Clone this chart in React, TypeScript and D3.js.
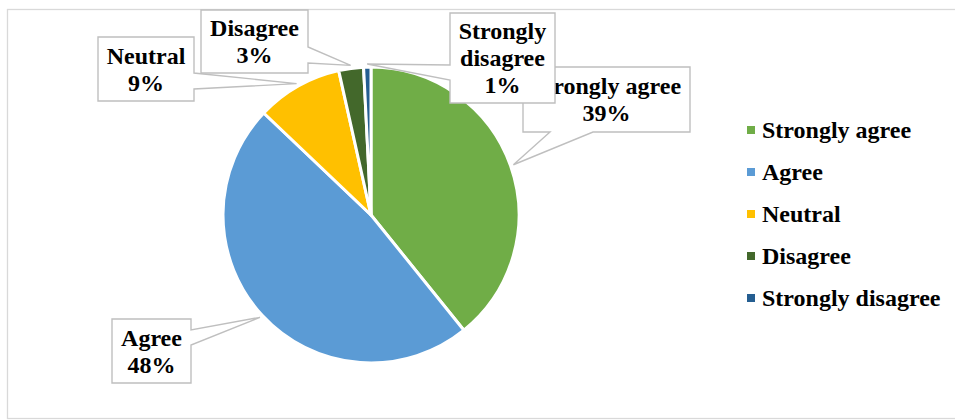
import React from 'react';
import * as d3 from 'd3';

// survey answers
const categories = ['Strongly agree', 'Agree', 'Neutral', 'Disagree', 'Strongly disagree'];
const shares = [39.2, 47.9, 9.4, 2.7, 0.8];
const pctLabels = ['39%', '48%', '9%', '3%', '1%'];
const labelLines = [['Strongly agree'], ['Agree'], ['Neutral'], ['Disagree'], ['Strongly', 'disagree']];
const colors = ['#70AD47', '#5B9BD5', '#FFC000', '#43682B', '#255E91'];

// callout boxes: rect + which side the pointer leaves from and its base span
type Callout = { x: number; y: number; w: number; h: number; side: 'left' | 'right' | 'bottom'; b0: number; b1: number };
const callouts: Callout[] = [
  { x: 523, y: 67, w: 167, h: 65, side: 'bottom', b0: 550, b1: 593 },
  { x: 112, y: 319, w: 79, h: 64, side: 'right', b0: 330, b1: 345 },
  { x: 98, y: 37, w: 96, h: 64, side: 'right', b0: 73, b1: 89 },
  { x: 201, y: 10, w: 107, h: 63, side: 'right', b0: 47, b1: 63 },
  { x: 450, y: 13, w: 105, h: 90, side: 'left', b0: 65, b1: 80 },
];

const W = 955;
const H = 420;
const cx = 371;
const cy = 215;
const R = 148;
const FONT = "'Liberation Serif', 'Times New Roman', serif";

function calloutPath(c: Callout, tip: [number, number]) {
  const { x, y, w, h } = c;
  const p = d3.path();
  p.moveTo(x, y);
  p.lineTo(x + w, y);
  if (c.side === 'right') {
    p.lineTo(x + w, c.b0);
    p.lineTo(tip[0], tip[1]);
    p.lineTo(x + w, c.b1);
  }
  p.lineTo(x + w, y + h);
  if (c.side === 'bottom') {
    p.lineTo(c.b1, y + h);
    p.lineTo(tip[0], tip[1]);
    p.lineTo(c.b0, y + h);
  }
  p.lineTo(x, y + h);
  if (c.side === 'left') {
    p.lineTo(x, c.b1);
    p.lineTo(tip[0], tip[1]);
    p.lineTo(x, c.b0);
  }
  p.closePath();
  return p.toString();
}

export default function App() {
  const pie = d3.pie<number>().sort(null).value((d) => d);
  const arcs = pie(shares);
  const arc = d3.arc<d3.PieArcDatum<number>>().innerRadius(0).outerRadius(R);
  const tipArc = d3.arc<d3.PieArcDatum<number>>().innerRadius(151).outerRadius(151);

  const legendY = d3.scalePoint<string>().domain(categories).range([130, 298]);

  // draw order of callouts: strongly agree box sits under the strongly disagree one
  const order = [0, 1, 2, 3, 4];

  return (
    <svg width={W} height={H} style={{ position: 'absolute', left: 0, top: 0, background: '#fff' }}>
      <rect x={7.5} y={9.5} width={970} height={409} fill="#fff" stroke="#d9d9d9" strokeWidth={1.3} />

      <g transform={`translate(${cx},${cy})`}>
        {arcs.map((a, i) => (
          <path key={categories[i]} d={arc(a) || ''} fill={colors[i]} stroke="#fff" strokeWidth={3} strokeLinejoin="round" />
        ))}
      </g>

      {order.map((i) => {
        const c = callouts[i];
        const t = tipArc.centroid(arcs[i]);
        const tip: [number, number] = [t[0] + cx, t[1] + cy];
        const lines = [...labelLines[i], pctLabels[i]];
        const midX = c.x + c.w / 2;
        const midY = c.y + c.h / 2;
        const step = 27;
        return (
          <g key={`lbl-${i}`}>
            <path d={calloutPath(c, tip)} fill="#fff" stroke="#bfbfbf" strokeWidth={1.4} strokeLinejoin="miter" />
            <text fontFamily={FONT} fontWeight="bold" fontSize={24} textAnchor="middle" fill="#000">
              {lines.map((l, k) => (
                <tspan key={k} x={midX} y={midY - ((lines.length - 1) * step) / 2 + 8 + k * step}>
                  {l}
                </tspan>
              ))}
            </text>
          </g>
        );
      })}

      <g>
        {categories.map((cat, i) => {
          const y = legendY(cat) || 0;
          return (
            <g key={`leg-${cat}`}>
              <rect x={747} y={y - 4} width={8} height={8} fill={colors[i]} />
              <text x={762} y={y + 8} fontFamily={FONT} fontWeight="bold" fontSize={24} fill="#000">
                {cat}
              </text>
            </g>
          );
        })}
      </g>
    </svg>
  );
}
